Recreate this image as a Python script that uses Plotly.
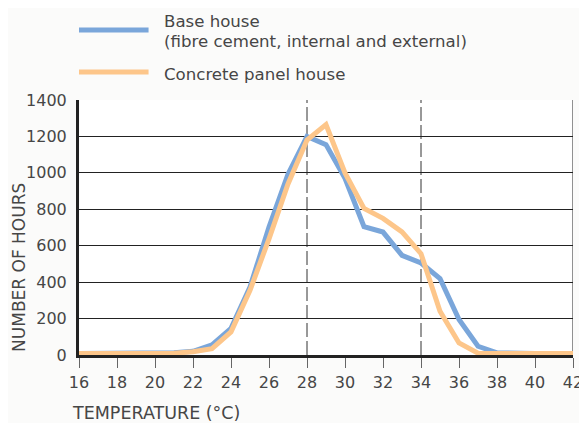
import plotly.graph_objects as go

temperature = list(range(16, 43))
base_house = [8, 8, 8, 8, 8, 12, 20, 55, 146, 373, 702, 993, 1200, 1155, 970, 705, 675, 547, 505, 420, 195, 48, 12, 8, 8, 8, 8]
concrete_house = [8, 8, 8, 8, 8, 10, 18, 35, 127, 355, 638, 939, 1180, 1265, 1000, 805, 750, 676, 556, 240, 66, 10, 8, 8, 8, 8, 8]
x_ticks = list(range(16, 43, 2))
y_ticks = list(range(0, 1401, 200))
comfort_limits = [28, 34]

BLUE = "#7aa6da"
ORANGE = "#fdc68a"
TEXT = "#464646"
FONT = "DejaVu Sans, Liberation Sans, sans-serif"

fig = go.Figure()
fig.add_trace(go.Scatter(x=temperature, y=base_house, mode="lines",
                         line=dict(color=BLUE, width=5), name="Base house"))
fig.add_trace(go.Scatter(x=temperature, y=concrete_house, mode="lines",
                         line=dict(color=ORANGE, width=5), name="Concrete panel house"))

for x in comfort_limits:
    fig.add_shape(type="line", xref="x", yref="paper", x0=x, x1=x, y0=0, y1=1,
                  line=dict(color="#333333", width=1, dash="14px,4px"), layer="below")
fig.add_shape(type="line", xref="x", yref="paper", x0=42, x1=42, y0=0, y1=1,
              line=dict(color="#222222", width=1), layer="below")

# legend drawn as shapes + text
fig.add_shape(type="line", xref="paper", yref="paper", x0=0, x1=0.1408, y0=1.2745, y1=1.2745,
              line=dict(color=BLUE, width=5))
fig.add_shape(type="line", xref="paper", yref="paper", x0=0, x1=0.1408, y0=1.1098, y1=1.1098,
              line=dict(color=ORANGE, width=5))
fig.add_annotation(xref="paper", yref="paper", x=0.169, y=1.3059, text="Base house",
                   showarrow=False, xanchor="left", yanchor="middle",
                   font=dict(family=FONT, size=16.6, color=TEXT))
fig.add_annotation(xref="paper", yref="paper", x=0.169, y=1.2294,
                   text="(fibre cement, internal and external)",
                   showarrow=False, xanchor="left", yanchor="middle",
                   font=dict(family=FONT, size=16.6, color=TEXT))
fig.add_annotation(xref="paper", yref="paper", x=0.169, y=1.10, text="Concrete panel house",
                   showarrow=False, xanchor="left", yanchor="middle",
                   font=dict(family=FONT, size=16.6, color=TEXT))

fig.add_annotation(xref="paper", yref="paper", x=-0.0181, y=-0.226, text="TEMPERATURE (°C)",
                   showarrow=False, xanchor="left", yanchor="middle",
                   font=dict(family=FONT, size=17.5, color=TEXT))
fig.add_annotation(xref="paper", yref="paper", x=-0.1227, y=0.343, text="NUMBER OF HOURS",
                   showarrow=False, xanchor="center", yanchor="middle", textangle=-90,
                   font=dict(family=FONT, size=17, color=TEXT))

fig.update_layout(
    width=587, height=423,
    margin=dict(l=71, r=19, t=92, b=76),
    paper_bgcolor="#fbfbfa", plot_bgcolor="#ffffff",
    showlegend=False,
    font=dict(family=FONT, size=16, color=TEXT),
)
fig.update_xaxes(range=[16, 42], tickvals=x_ticks, showgrid=False, zeroline=False,
                 showline=True, linecolor="#222222", linewidth=3,
                 ticks="outside", ticklen=10, tickcolor="#666666", tickwidth=1,
                 ticklabelstandoff=1,
                 tickfont=dict(family=FONT, size=16, color=TEXT))
fig.update_yaxes(range=[0, 1400], tickvals=y_ticks, showgrid=True, gridcolor="#222222",
                 gridwidth=1, zeroline=False, showline=True, linecolor="#222222", linewidth=3,
                 ticks="", ticklabelstandoff=6,
                 tickfont=dict(family=FONT, size=16, color=TEXT))

fig.write_html("out.html")
